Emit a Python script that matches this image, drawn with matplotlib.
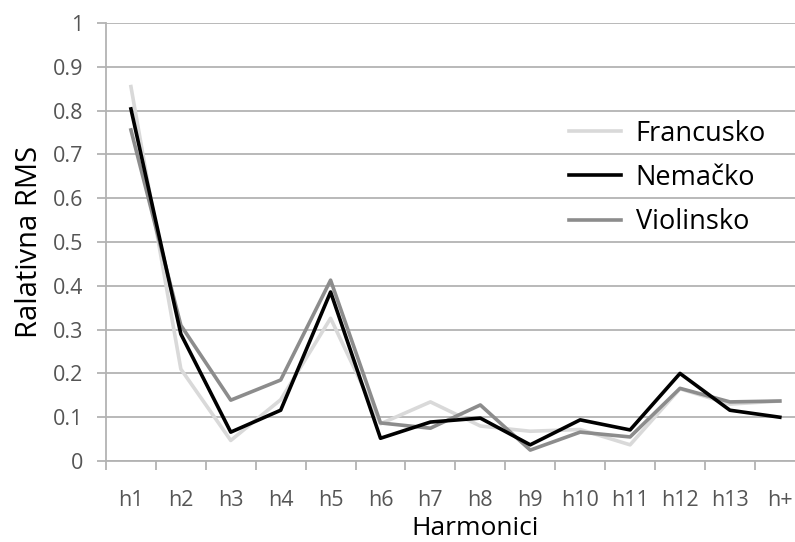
import numpy as np
import matplotlib
matplotlib.use("Agg")
import matplotlib.pyplot as plt

# harmonics and relative RMS per bowing style
harmonics = ['h1', 'h2', 'h3', 'h4', 'h5', 'h6', 'h7', 'h8', 'h9', 'h10', 'h11', 'h12', 'h13', 'h+']
francusko = [0.855, 0.21, 0.047, 0.14, 0.326, 0.085, 0.135, 0.08, 0.068, 0.072, 0.037, 0.165, 0.13, 0.137]
nemacko = [0.804, 0.29, 0.066, 0.116, 0.386, 0.052, 0.089, 0.098, 0.037, 0.094, 0.071, 0.20, 0.116, 0.10]
violinsko = [0.756, 0.31, 0.139, 0.185, 0.413, 0.087, 0.075, 0.128, 0.025, 0.066, 0.055, 0.166, 0.135, 0.137]

plt.rcParams['font.family'] = ['Open Sans', 'DejaVu Sans']

fig = plt.figure(figsize=(7.95, 5.42), dpi=100)
ax = fig.add_axes([0.1333, 0.1494, 0.879, 0.808])

x = np.arange(len(harmonics))
grid_c = '#b3b3b3'

l1, = ax.plot(x, francusko, color='#d9d9d9', lw=2.6, label='Francusko', zorder=3)
l3, = ax.plot(x, violinsko, color='#8c8c8c', lw=2.6, label='Violinsko', zorder=4)
l2, = ax.plot(x, nemacko, color='#000000', lw=2.6, label='Nemačko', zorder=5)

ax.set_xlim(-0.5, len(harmonics) - 0.5)
ax.set_ylim(0, 1)
ax.set_yticks(np.arange(0, 1.01, 0.1))
ax.set_yticklabels(['0'] + ['%.1f' % v for v in np.arange(0.1, 0.95, 0.1)] + ['1'])
ax.set_xticks(x)
ax.set_xticklabels(harmonics)
ax.set_xticks(np.arange(-0.5, len(harmonics), 1), minor=True)

ax.yaxis.grid(True, color=grid_c, lw=1.3)
ax.set_axisbelow(True)
for s in ['top', 'right']:
    ax.spines[s].set_visible(False)
for s in ['left', 'bottom']:
    ax.spines[s].set_color(grid_c)
    ax.spines[s].set_linewidth(1.3)

ax.tick_params(axis='y', colors=grid_c, labelcolor='#555555', labelsize=15.5, length=6.5, width=1.3, pad=10)
ax.tick_params(axis='x', which='major', length=0, labelcolor='#555555', labelsize=15.5, pad=21)
ax.tick_params(axis='x', which='minor', colors=grid_c, length=6.5, width=1.3)

ax.set_ylabel('Ralativna RMS', fontsize=21, labelpad=6)
ax.set_xlabel('Harmonici', fontsize=19, labelpad=2)
ax.xaxis.set_label_coords(0.528, -0.125)

ax.legend(handles=[l1, l2, l3], loc='upper left', bbox_to_anchor=(0.628, 0.835),
          frameon=False, fontsize=19.5, handlelength=1.9, handletextpad=0.55, labelspacing=0.6)

fig.savefig('out.png', dpi=100)
